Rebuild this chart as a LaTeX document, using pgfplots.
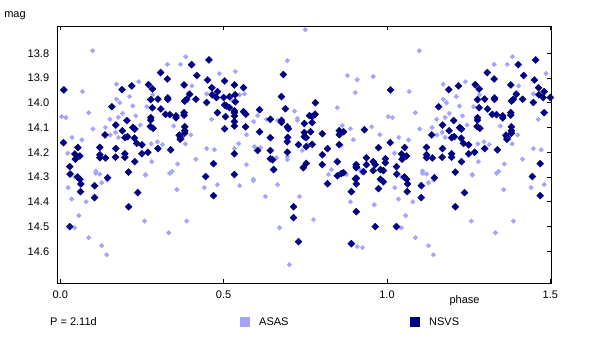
\documentclass[border=0pt]{standalone}
\usepackage{pgfplots}
\pgfplotsset{compat=1.18}
\usepackage{pgfplotstable}
\usepackage{fontspec}
\setmainfont{Liberation Sans}
\definecolor{asas}{RGB}{164,164,255}
\definecolor{nsvs}{RGB}{0,0,128}
\pgfplotstableread{
p m
0.099 13.790
0.004 14.056
0.017 14.060
0.023 14.204
0.036 14.140
0.066 14.150
0.068 13.955
0.087 14.040
0.100 14.106
0.109 14.285
0.123 14.218
0.138 14.100
0.152 14.067
0.153 14.130
0.169 14.120
0.172 13.925
0.172 13.986
0.178 14.059
0.182 14.000
0.178 14.140
0.191 14.043
0.212 13.975
0.222 14.013
0.231 14.053
0.240 13.915
0.245 14.090
0.261 14.290
0.265 14.016
0.278 14.166
0.280 14.238
0.283 13.968
0.297 14.158
0.313 14.169
0.328 13.845
0.335 14.285
0.342 14.277
0.347 14.094
0.359 14.247
0.368 13.845
0.374 14.146
0.383 14.166
0.384 13.814
0.393 13.960
0.400 14.130
0.403 13.932
0.415 14.228
0.024 14.343
0.035 14.389
0.045 14.300
0.057 14.456
0.044 14.505
0.079 14.400
0.087 14.545
0.109 14.276
0.121 14.288
0.127 14.323
0.127 14.577
0.142 14.614
0.143 14.312
0.261 14.292
0.258 14.478
0.332 14.525
0.357 14.351
0.387 14.478
0.487 13.882
0.448 13.964
0.463 14.067
0.448 14.185
0.472 14.190
0.441 14.343
0.481 14.331
0.750 13.705
0.695 13.830
0.536 13.874
0.525 13.989
0.549 13.968
0.564 13.964
0.533 14.185
0.546 14.165
0.570 14.129
0.570 14.250
0.592 14.076
0.594 14.177
0.604 14.052
0.613 14.181
0.631 14.067
0.662 14.222
0.665 14.072
0.695 14.218
0.695 14.230
0.717 14.034
0.726 14.063
0.726 14.071
0.741 14.193
0.757 14.169
0.848 14.020
0.863 14.092
0.860 14.173
0.879 13.890
0.909 13.907
0.903 13.959
0.888 14.105
0.897 14.149
0.953 14.097
0.978 14.129
0.958 13.894
0.821 14.290
0.830 14.270
0.876 14.290
0.917 14.270
0.922 14.282
0.591 14.309
0.549 14.335
0.591 14.315
0.628 14.379
0.665 14.331
0.671 14.505
0.701 14.654
0.732 14.379
0.775 14.472
0.888 14.400
0.909 14.581
0.925 14.585
0.961 14.412
}\asastable
\pgfplotstableread{
p m
0.011 13.948
0.010 14.161
0.030 14.288
0.029 14.258
0.045 14.207
0.046 14.228
0.060 14.215
0.054 14.181
0.053 14.300
0.060 14.309
0.063 14.328
0.062 14.359
0.105 14.335
0.105 14.383
0.121 14.180
0.121 14.210
0.121 14.222
0.137 14.130
0.139 14.223
0.145 14.303
0.158 14.016
0.170 14.090
0.170 14.185
0.169 14.220
0.189 13.947
0.190 14.113
0.198 14.141
0.198 14.206
0.198 14.220
0.204 14.072
0.206 14.137
0.209 14.280
0.209 14.420
0.219 13.932
0.222 14.100
0.228 14.106
0.227 14.143
0.234 14.164
0.228 14.238
0.237 14.363
0.250 14.170
0.250 14.206
0.268 14.200
0.270 13.927
0.282 13.944
0.277 13.987
0.282 14.020
0.277 14.060
0.277 14.070
0.276 14.096
0.284 14.103
0.299 13.985
0.299 14.185
0.307 13.878
0.308 14.025
0.322 14.047
0.328 13.904
0.329 13.980
0.329 13.986
0.335 14.048
0.338 14.190
0.354 14.053
0.354 14.061
0.364 14.131
0.368 14.140
0.367 14.147
0.379 13.928
0.381 13.993
0.387 13.986
0.379 14.040
0.379 14.050
0.381 14.097
0.381 14.113
0.381 14.123
0.396 13.966
0.402 13.846
0.415 13.986
0.418 13.890
0.029 14.500
0.455 13.827
0.451 13.908
0.464 13.939
0.465 13.968
0.481 13.955
0.478 13.979
0.448 13.999
0.481 14.040
0.469 14.246
0.445 14.298
0.469 14.375
0.503 13.912
0.500 13.979
0.503 14.009
0.509 14.013
0.518 14.020
0.506 14.056
0.503 14.105
0.518 13.975
0.533 13.928
0.535 13.968
0.536 13.996
0.533 14.033
0.533 14.040
0.533 14.053
0.533 14.076
0.533 14.094
0.533 14.206
0.533 14.290
0.561 13.939
0.561 14.036
0.568 14.046
0.567 14.097
0.610 14.028
0.610 14.117
0.604 14.193
0.643 14.067
0.643 14.141
0.643 14.193
0.643 14.226
0.650 14.230
0.653 14.270
0.683 13.886
0.677 13.975
0.689 14.024
0.677 14.071
0.677 14.079
0.695 14.097
0.698 14.105
0.696 14.140
0.695 14.157
0.695 14.200
0.714 14.420
0.714 14.464
0.729 14.561
0.729 14.169
0.747 14.084
0.747 14.120
0.747 14.137
0.753 14.141
0.753 14.177
0.744 14.262
0.753 14.245
0.763 14.052
0.771 14.056
0.780 14.046
0.771 14.080
0.771 14.168
0.781 14.000
0.766 14.117
0.802 14.125
0.802 14.210
0.802 14.250
0.818 14.185
0.818 14.327
0.848 14.238
0.854 14.113
0.854 14.129
0.867 14.117
0.854 14.169
0.848 14.295
0.860 14.286
0.867 14.282
0.891 14.359
0.891 14.569
0.906 14.258
0.906 14.305
0.906 14.328
0.906 14.440
0.931 14.109
0.906 14.250
0.906 14.262
0.903 14.307
0.928 14.278
0.937 14.222
0.937 14.250
0.958 14.238
0.964 14.250
0.958 14.274
0.974 14.181
0.980 14.270
0.989 14.274
0.980 14.309
0.989 14.319
0.974 14.347
0.964 14.500
0.995 14.226
0.995 14.242
}\nsvstable
\begin{document}
\fontsize{11}{13}\selectfont
\begin{tikzpicture}[x=1pt,y=1pt]
\path (0,0) rectangle (594,345);
\begin{axis}[
  at={(57pt,62pt)}, anchor=south west,
  scale only axis, width=494pt, height=257pt,
  xmin=-0.01, xmax=1.502, ymin=13.69, ymax=14.728,
  y dir=reverse,
  xtick={0,0.5,1,1.5}, xticklabels={0.0,0.5,1.0,1.5},
  ytick={13.8,13.9,14.0,14.1,14.2,14.3,14.4,14.5,14.6},
  yticklabels={13.8,13.9,14.0,14.1,14.2,14.3,14.4,14.5,14.6},
  tick align=inside, xtick pos=both, ytick pos=right, yticklabel pos=left,
  major tick length=4pt,
  axis line style={line width=0.8pt},
  tick style={black, line width=0.8pt},
  xticklabel style={yshift=-4pt},
  yticklabel style={xshift=-4pt},
]
\addplot[only marks, mark=diamond*, mark size=2.3pt, color=asas, mark options={xscale=1.33}] table[x=p,y=m]{\asastable};
\addplot[only marks, mark=diamond*, mark size=2.3pt, color=asas, mark options={xscale=1.33}, restrict x to domain=1:1.502] table[x expr=\thisrow{p}+1,y=m]{\asastable};
\addplot[only marks, mark=diamond*, mark size=3.5pt, color=nsvs, mark options={xscale=1.33}] table[x=p,y=m]{\nsvstable};
\addplot[only marks, mark=diamond*, mark size=3.5pt, color=nsvs, mark options={xscale=1.33}, restrict x to domain=1:1.502] table[x expr=\thisrow{p}+1,y=m]{\nsvstable};
\end{axis}
\node[inner sep=0] at (15,329) {mag};
\node[inner sep=0] at (464.5,44) {phase};
\node[inner sep=0, anchor=west] at (50,23) {P = 2.11d};
\fill[asas] (240,18) rectangle (250,28);
\node[inner sep=0, anchor=west] at (259,23) {ASAS};
\fill[nsvs] (410,18) rectangle (420,28);
\node[inner sep=0, anchor=west] at (429,23) {NSVS};
\end{tikzpicture}
\end{document}
